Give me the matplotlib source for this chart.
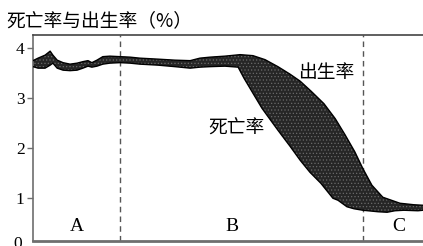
import numpy as np
import matplotlib
matplotlib.use('Agg')
import matplotlib.pyplot as plt

# birth rate (upper edge of band), x in 0..100 time units
birth_x = [0, 1.3, 3.1, 4.4, 5.1, 6.2, 7.7, 9.5, 11.3, 12.8, 14.1, 15.1, 16.4, 17.9,
           19.7, 22.3, 24.9, 27.4, 32.1, 36.4, 40.3, 42.8, 45.4, 49.2, 53.1, 56.4,
           59.5, 62.8, 65.9, 68.5, 71.3, 74.6, 77.5, 80.0, 82.5, 84.6, 86.9, 89.7,
           94.1, 97.7, 100]
birth_y = [3.74, 3.79, 3.85, 3.93, 3.85, 3.75, 3.70, 3.67, 3.69, 3.72, 3.74, 3.70, 3.75, 3.82,
           3.83, 3.82, 3.81, 3.79, 3.77, 3.75, 3.74, 3.79, 3.81, 3.83, 3.86, 3.84,
           3.76, 3.62, 3.47, 3.33, 3.13, 2.88, 2.58, 2.26, 1.92, 1.58, 1.25, 1.01,
           0.89, 0.86, 0.85]

# death rate (lower edge of band)
death_x = [0, 1.3, 3.1, 4.4, 5.1, 6.2, 7.7, 9.5, 11.3, 12.8, 14.1, 15.1, 16.4, 17.9,
           19.7, 22.3, 24.9, 27.4, 32.1, 36.4, 40.3, 42.8, 45.4, 49.2, 52.6, 54.1,
           56.7, 58.7, 60.0, 62.8, 65.9, 68.5, 71.0, 73.8, 76.9, 78.2, 80.5, 82.3,
           84.6, 88.5, 90.8, 92.8, 95.1, 98.7, 100]
death_y = [3.62, 3.59, 3.59, 3.65, 3.69, 3.59, 3.55, 3.54, 3.55, 3.59, 3.63, 3.61, 3.63, 3.67,
           3.69, 3.70, 3.69, 3.67, 3.65, 3.62, 3.59, 3.61, 3.62, 3.63, 3.61, 3.39,
           3.05, 2.79, 2.65, 2.35, 2.03, 1.75, 1.51, 1.29, 0.99, 0.95, 0.82, 0.78,
           0.75, 0.72, 0.71, 0.74, 0.75, 0.74, 0.75]

stage_edges = [22.3, 84.6]
stage_names = ['A', 'B', 'C']
stage_pos = [11.3, 51.0, 93.7]
yticks = [1, 2, 3, 4]

cjk = ['Noto Sans CJK SC', 'DejaVu Sans']
serif = 'Liberation Serif'
grey = '#6e6e6e'

fig = plt.figure(figsize=(4.23, 2.46), dpi=100)
ax = fig.add_axes([0.078, 0.020, 0.922, 0.838])

# dashed stage borders
for xe in stage_edges:
    ax.axvline(xe, color='#555555', lw=1, ls=(0, (4, 3)), zorder=1)

# band between the two rates
px = np.concatenate([birth_x, death_x[::-1]])
py = np.concatenate([birth_y, death_y[::-1]])
plt.rcParams['hatch.color'] = '#6a6a6a'
plt.rcParams['hatch.linewidth'] = 0.5
ax.fill(px, py, facecolor='#262626', edgecolor='#6a6a6a', lw=0, hatch='.....', zorder=2)
ax.plot(birth_x, birth_y, color='black', lw=1.0, zorder=3)
ax.plot(death_x, death_y, color='black', lw=1.0, zorder=3)

ax.set_xlim(0, 100)
ax.set_ylim(0.134, 4.254)
ax.set_xticks([])
ax.set_yticks(yticks)
ax.set_yticklabels([str(t) for t in yticks], fontfamily=serif, fontsize=12.5)
ax.tick_params(axis='y', length=4, width=1, color=grey, pad=2)
ax.text(-2.8, 0.08, '0', fontfamily=serif, fontsize=12.5, ha='right', va='center', clip_on=False)

ax.spines['right'].set_visible(False)
ax.spines['left'].set_color(grey)
ax.spines['left'].set_linewidth(1.2)
ax.spines['bottom'].set_color(grey)
ax.spines['bottom'].set_linewidth(2.0)
ax.spines['top'].set_color('#444444')
ax.spines['top'].set_linewidth(1.2)

for name, xp in zip(stage_names, stage_pos):
    ax.text(xp, 0.42, name, fontfamily=serif, fontsize=14, ha='center', va='center')

ax.text(75.1, 3.51, '出生率', family=cjk, fontsize=13.5, ha='center', va='center')
ax.text(52.2, 2.39, '死亡率', family=cjk, fontsize=13.5, ha='center', va='center')

fig.text(0.015, 0.915, '死亡率与出生率（%）', family=cjk, fontsize=13.5, ha='left', va='center')

fig.savefig('out.png', dpi=100)
